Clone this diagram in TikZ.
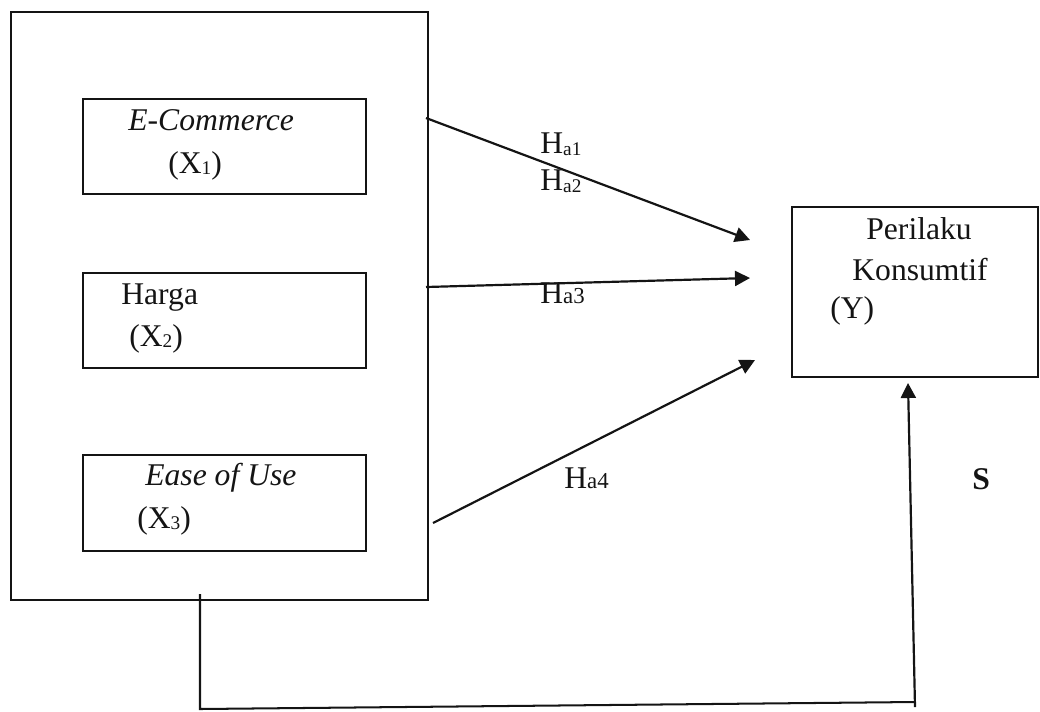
\documentclass[tikz,border=0pt]{standalone}
\usepackage{fontspec}
\setmainfont{Liberation Serif}
\usetikzlibrary{positioning, arrows.meta}
\definecolor{inkBlack}{RGB}{20,20,20}
\newcommand{\lowidx}[2]{\raisebox{#2}{\fontsize{11}{11}\selectfont #1}}

\begin{document}
\begin{tikzpicture}[x=0.02cm, y=-0.02cm,
    varbox/.style={draw=inkBlack, line width=1.15pt, inner sep=0pt},
    lbl/.style={anchor=base west, inner sep=0pt, text=inkBlack, font=\fontsize{18}{21}\selectfont},
    hyparrow/.style={draw=inkBlack, line width=1.25pt, -{Triangle[length=0.3cm, width=0.3cm]}},
    plain/.style={draw=inkBlack, line width=1.15pt}]
        \useasboundingbox (0,0) rectangle (1040,711);
        \node[varbox, minimum width=8.34cm, minimum height=11.76cm] (outer) at (219.5,306) {};
        \node[varbox, minimum width=5.66cm, minimum height=1.9cm] (ec) at (224.5,146.5) {};
        \node[varbox, minimum width=5.66cm, minimum height=1.9cm] (harga) at (224.5,320.5) {};
        \node[varbox, minimum width=5.66cm, minimum height=1.92cm] (eou) at (224.5,503) {};
        \node[varbox, minimum width=4.92cm, minimum height=3.4cm] (perilaku) at (915,292) {};
        \node[lbl] (ecT) at (128,130) {\itshape E-Commerce};
        \node[lbl] (ecX) at (168,173) {(X\lowidx{1}{-1pt})};
        \node[lbl] (hargaT) at (121,304) {Harga};
        \node[lbl] (hargaX) at (129,346) {(X\lowidx{2}{-1pt})};
        \node[lbl] (eouT) at (145,485) {\itshape Ease of Use};
        \node[lbl] (eouX) at (137,528) {(X\lowidx{3}{-1pt})};
        \node[lbl] (perT) at (866,239) {Perilaku};
        \node[lbl] (perT2) at (852,280) {Konsumtif};
        \node[lbl] (perY) at (830,318) {(Y)};
        \node[lbl] (ha1) at (540,153) {H\lowidx{a1}{-1.5pt}};
        \node[lbl] (ha2) at (540,190) {H\lowidx{a2}{-1.5pt}};
        \node[lbl] (ha3) at (540,303) {H{\fontsize{13}{13}\selectfont a3}};
        \node[lbl] (ha4) at (564,488) {H{\fontsize{13}{13}\selectfont a4}};
        \node[lbl, font=\fontsize{18}{21}\selectfont\bfseries] (sLbl) at (972,489) {S};
        \coordinate (s1) at (426,118);
        \coordinate (e1) at (750,240);
        \coordinate (s2) at (426,287);
        \coordinate (e2) at (750,278);
        \coordinate (s3) at (433,523);
        \coordinate (e3) at (755,360);
        \draw[hyparrow] (s1) -- (e1);
        \draw[hyparrow] (s2) -- (e2);
        \draw[hyparrow] (s3) -- (e3);
        \coordinate (b0) at (200,594);
        \coordinate (b1) at (200,709);
        \coordinate (b2) at (915,702);
        \coordinate (b3) at (915,707);
        \coordinate (tip) at (908,383);
        \draw[plain] (b0) -- (b1) -- (b2);
        \draw[hyparrow] (b3) -- (tip);
      \end{tikzpicture}
\end{document}
